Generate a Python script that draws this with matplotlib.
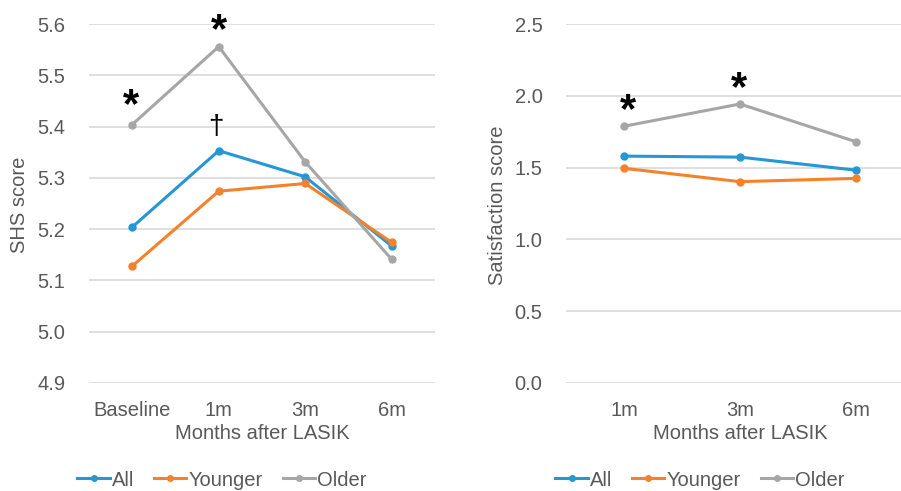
import matplotlib
matplotlib.use("Agg")
import matplotlib.pyplot as plt
from matplotlib.lines import Line2D

plt.rcParams['font.family'] = ['Liberation Sans', 'DejaVu Sans']

# Data
shs_categories = ["Baseline", "1m", "3m", "6m"]
shs_all = [5.204, 5.353, 5.302, 5.167]
shs_younger = [5.128, 5.274, 5.289, 5.174]
shs_older = [5.404, 5.556, 5.331, 5.141]

sat_categories = ["1m", "3m", "6m"]
sat_all = [1.580, 1.573, 1.482]
sat_younger = [1.495, 1.402, 1.425]
sat_older = [1.788, 1.943, 1.680]

series_names = ["All", "Younger", "Older"]
colors = ["#2596d6", "#f5822a", "#a6a6a6"]

TXT = "#595959"
GRID = "#d9d9d9"
FS = 14.5

W, H = 901, 491
fig = plt.figure(figsize=(W / 100, H / 100), dpi=100)

def fx(px):
    return px / W

def fy(py):
    return 1 - py / H

ax1 = fig.add_axes([fx(89), fy(383), fx(435 - 89), (383 - 24) / H])
ax2 = fig.add_axes([fx(566), fy(383), fx(914 - 566), (383 - 24) / H])

def style(ax, cats, ylim, yticks, ylabel):
    ax.set_xlim(-0.5, len(cats) - 0.5)
    ax.set_ylim(*ylim)
    ax.set_yticks(yticks)
    ax.set_yticklabels([f"{t:.1f}" for t in yticks])
    ax.set_xticks(range(len(cats)))
    ax.set_xticklabels(cats)
    for s in ax.spines.values():
        s.set_visible(False)
    ax.grid(axis='y', color=GRID, linewidth=1.2)
    ax.set_axisbelow(True)
    ax.tick_params(axis='both', length=0, labelsize=FS, colors=TXT)
    ax.tick_params(axis='x', pad=13)
    ax.tick_params(axis='y', pad=17)
    ax.set_xlabel("Months after LASIK", fontsize=FS, color=TXT, labelpad=3)
    ax.set_ylabel(ylabel, fontsize=FS, color=TXT)

for ax, cats, data in [
    (ax1, shs_categories, [shs_all, shs_younger, shs_older]),
    (ax2, sat_categories, [sat_all, sat_younger, sat_older]),
]:
    for vals, c, name in zip(data, colors, series_names):
        ax.plot(range(len(cats)), vals, color=c, lw=2.2, marker='o', ms=5, label=name, zorder=3)

style(ax1, shs_categories, (4.9, 5.6), [4.9, 5.0, 5.1, 5.2, 5.3, 5.4, 5.5, 5.6], "SHS score")
style(ax2, sat_categories, (0.0, 2.5), [0.0, 0.5, 1.0, 1.5, 2.0, 2.5], "Satisfaction score")
ax1.yaxis.set_label_coords((29 - 89) / 346, (383 - 205) / 359)
ax2.yaxis.set_label_coords((507 - 566) / 348, (383 - 205) / 359)

star_kw = dict(ha='center', va='center', fontsize=30, fontweight='bold', color='black',
               textcoords='offset points', annotation_clip=False)
ax1.annotate("*", (0, shs_older[0]), xytext=(-1, 13), **star_kw)
ax1.annotate("*", (1, shs_older[1]), xytext=(0, 11), **star_kw)
ax1.annotate("†", (1, shs_all[1]), xytext=(-2, 17), ha='center', va='center', fontsize=20,
             color='black', textcoords='offset points')
ax2.annotate("*", (0, sat_older[0]), xytext=(3, 11), **star_kw)
ax2.annotate("*", (1, sat_older[1]), xytext=(-1, 11), **star_kw)

handles = [Line2D([], [], color=c, lw=2.2, marker='o', ms=4) for c in colors]
for cx in (222, 700):
    fig.legend(handles, series_names, loc='center', bbox_to_anchor=(fx(cx), fy(480)),
               ncol=3, frameon=False, fontsize=FS, labelcolor=TXT, handlelength=1.6,
               handletextpad=0.1, columnspacing=1.0)

fig.savefig("out.png", dpi=100)
